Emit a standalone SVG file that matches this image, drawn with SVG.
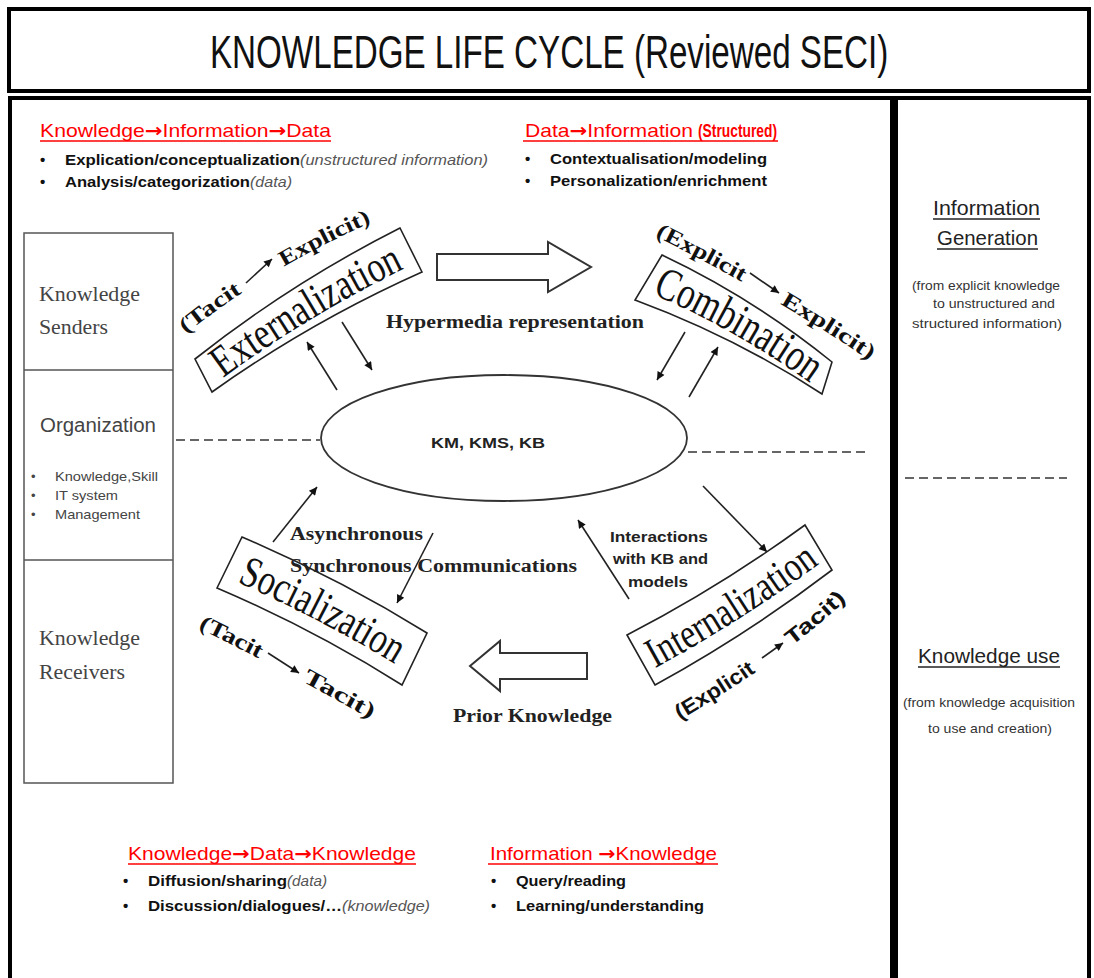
<svg xmlns="http://www.w3.org/2000/svg" width="1094" height="978" viewBox="0 0 1094 978">
<defs>
<marker id="ah" viewBox="0 0 10 10" refX="10" refY="5" markerWidth="11" markerHeight="8" markerUnits="userSpaceOnUse" orient="auto"><path d="M0,0 L10,5 L0,10 z" fill="#111"/></marker>
<path id="pExt" d="M211,387 Q308,314 418,262"/>
<path id="pComb" d="M641,289 Q737,329 820,390"/>
<path id="pSoc" d="M223,576 Q319,617 408,672"/>
<path id="pInt" d="M648,672 Q741,622 826,559"/>
<path id="lExt" d="M186,334 Q266,269 372,222"/>
<path id="lComb" d="M655,236 Q775,296 872,362"/>
<path id="lSoc" d="M198,628 Q286,671 372,720"/>
<path id="lInt" d="M680,720 Q787,657 848,598"/>
</defs>
<style>
.frame{fill:none;stroke:#000;stroke-width:4}
.sans{font-family:"Liberation Sans",Arial,sans-serif}
.red{font-family:"Liberation Sans",Arial,sans-serif;font-size:19px;fill:#f00}
.ar{font-family:"DejaVu Sans",sans-serif;font-weight:bold}
.ul{stroke:#f00;stroke-width:1.6}
.bul{font-family:"Liberation Sans",Arial,sans-serif;font-size:15px;font-weight:bold;fill:#111}
.ital{font-family:"Liberation Sans",Arial,sans-serif;font-size:15px;font-style:italic;fill:#555}
.side{font-family:"Liberation Sans",Arial,sans-serif;font-size:21px;fill:#222}
.sideS{font-family:"Liberation Sans",Arial,sans-serif;font-size:13px;fill:#333}
.box{fill:none;stroke:#555;stroke-width:1.5}
.boxT{font-family:"Liberation Serif","Times New Roman",serif;font-size:20px;fill:#444}
.org{font-family:"Liberation Sans",Arial,sans-serif;font-size:13px;fill:#444}
.banner{fill:#fff;stroke:#222;stroke-width:1.6}
.bText{font-family:"Liberation Serif","Times New Roman",serif;fill:#111}
.lab{font-family:"Liberation Serif","Times New Roman",serif;font-weight:bold;font-size:22px;fill:#111}
.labS{font-family:"Liberation Sans",Arial,sans-serif;font-weight:bold;font-size:21px;fill:#111}
.midT{font-family:"Liberation Serif","Times New Roman",serif;font-weight:bold;font-size:18px;fill:#222}
.midS{font-family:"Liberation Sans",Arial,sans-serif;font-weight:bold;font-size:15px;fill:#222}
.arr{stroke:#222;stroke-width:1.6;fill:none;marker-end:url(#ah)}
.hollow{fill:#fff;stroke:#333;stroke-width:2}
.dash{stroke:#666;stroke-width:2;stroke-dasharray:9 5;fill:none}
</style>
<rect width="1094" height="978" fill="#fff"/>

<g id="title">
<rect x="9" y="9" width="1080" height="82" class="frame"/>
<text transform="translate(210,68) scale(0.62,1)" x="0" y="0" class="sans" font-size="46" fill="#111" textLength="1094" lengthAdjust="spacingAndGlyphs">KNOWLEDGE LIFE CYCLE (Reviewed SECI)</text>
</g>

<g id="panels">
<rect x="10" y="98" width="882" height="900" class="frame"/>
<rect x="896" y="98" width="193" height="900" class="frame"/>
</g>

<g id="header-tl">
<text class="red" x="40" y="137" textLength="291" lengthAdjust="spacingAndGlyphs">Knowledge<tspan class="ar">→</tspan>Information<tspan class="ar">→</tspan>Data</text>
<line x1="40" y1="141" x2="331" y2="141" class="ul"/>
<text class="bul" x="40" y="165">•</text>
<text class="bul" x="65" y="165" textLength="235" lengthAdjust="spacingAndGlyphs">Explication/conceptualization</text>
<text class="ital" x="300" y="165" textLength="188" lengthAdjust="spacingAndGlyphs">(unstructured information)</text>
<text class="bul" x="40" y="187">•</text>
<text class="bul" x="65" y="187" textLength="185" lengthAdjust="spacingAndGlyphs">Analysis/categorization</text>
<text class="ital" x="250" y="187" textLength="42" lengthAdjust="spacingAndGlyphs">(data)</text>
</g>

<g id="header-tr">
<text class="red" x="525" y="137" textLength="168" lengthAdjust="spacingAndGlyphs">Data<tspan class="ar">→</tspan>Information</text>
<text class="red" x="698" y="137" font-size="13" font-weight="bold" textLength="79" lengthAdjust="spacingAndGlyphs">(Structured)</text>
<line x1="523" y1="141" x2="778" y2="141" class="ul"/>
<text class="bul" x="525" y="164">•</text>
<text class="bul" x="550" y="164" textLength="217" lengthAdjust="spacingAndGlyphs">Contextualisation/modeling</text>
<text class="bul" x="525" y="186">•</text>
<text class="bul" x="550" y="186" textLength="217" lengthAdjust="spacingAndGlyphs">Personalization/enrichment</text>
</g>

<g id="side-info">
<text class="side" x="933" y="215" textLength="107" lengthAdjust="spacingAndGlyphs">Information</text>
<line x1="933" y1="219" x2="1040" y2="219" stroke="#222" stroke-width="1.5"/>
<text class="side" x="937" y="245" textLength="101" lengthAdjust="spacingAndGlyphs">Generation</text>
<line x1="937" y1="249" x2="1038" y2="249" stroke="#222" stroke-width="1.5"/>
<text class="sideS" x="912" y="290" textLength="148" lengthAdjust="spacingAndGlyphs">(from explicit knowledge</text>
<text class="sideS" x="933" y="308" textLength="122" lengthAdjust="spacingAndGlyphs">to unstructured and</text>
<text class="sideS" x="912" y="328" textLength="150" lengthAdjust="spacingAndGlyphs">structured information)</text>
<line x1="905" y1="478" x2="1067" y2="478" class="dash" stroke="#888"/>
</g>

<g id="side-use">
<text class="side" x="918" y="663" textLength="142" lengthAdjust="spacingAndGlyphs">Knowledge use</text>
<line x1="918" y1="667" x2="1060" y2="667" stroke="#222" stroke-width="1.5"/>
<text class="sideS" x="903" y="707" textLength="172" lengthAdjust="spacingAndGlyphs">(from knowledge acquisition</text>
<text class="sideS" x="928" y="733" textLength="124" lengthAdjust="spacingAndGlyphs">to use and creation)</text>
</g>

<g id="actors">
<rect x="24" y="233" width="149" height="550" class="box"/>
<line x1="24" y1="370" x2="173" y2="370" class="box"/>
<line x1="24" y1="560" x2="173" y2="560" class="box"/>
<text class="boxT" x="39" y="301" textLength="101" lengthAdjust="spacingAndGlyphs">Knowledge</text>
<text class="boxT" x="39" y="334" textLength="69" lengthAdjust="spacingAndGlyphs">Senders</text>
<text class="sans" x="40" y="432" font-size="20" fill="#444" textLength="116" lengthAdjust="spacingAndGlyphs">Organization</text>
<text class="org" x="31" y="481">•</text>
<text class="org" x="55" y="481" textLength="103" lengthAdjust="spacingAndGlyphs">Knowledge,Skill</text>
<text class="org" x="31" y="500">•</text>
<text class="org" x="55" y="500" textLength="63" lengthAdjust="spacingAndGlyphs">IT system</text>
<text class="org" x="31" y="519">•</text>
<text class="org" x="55" y="519" textLength="85" lengthAdjust="spacingAndGlyphs">Management</text>
<text class="boxT" x="39" y="645" textLength="101" lengthAdjust="spacingAndGlyphs">Knowledge</text>
<text class="boxT" x="39" y="679" textLength="86" lengthAdjust="spacingAndGlyphs">Receivers</text>
</g>

<g id="connectors">
<line x1="176" y1="440" x2="320" y2="440" class="dash"/>
<line x1="688" y1="452" x2="870" y2="452" class="dash"/>
<polygon class="hollow" points="437,254 548,254 548,242 591,267 548,292 548,280 437,280"/>
<polygon class="hollow" points="587,653 500,653 500,641 470,666 500,691 500,679 587,679"/>
<line class="arr" x1="337" y1="390" x2="307" y2="342"/>
<line class="arr" x1="342" y1="322" x2="372" y2="370"/>
<line class="arr" x1="685" y1="332" x2="657" y2="380"/>
<line class="arr" x1="689" y1="397" x2="718" y2="347"/>
<line class="arr" x1="273" y1="542" x2="317" y2="487"/>
<line class="arr" x1="433" y1="533" x2="397" y2="603"/>
<line class="arr" x1="703" y1="486" x2="767" y2="552"/>
<line class="arr" x1="629" y1="599" x2="578" y2="520"/>
<line class="arr" x1="246" y1="283" x2="272" y2="259"/>
<line class="arr" x1="750" y1="273" x2="779" y2="293"/>
<line class="arr" x1="268" y1="653" x2="299" y2="673"/>
<line class="arr" x1="762" y1="658" x2="783" y2="643"/>
</g>

<g id="kb">
<ellipse cx="504" cy="438" rx="183" ry="63" fill="#fff" stroke="#333" stroke-width="1.8"/>
<text class="midS" x="488" y="448" text-anchor="middle" textLength="114" lengthAdjust="spacingAndGlyphs">KM, KMS, KB</text>
</g>

<g id="externalization">
<path class="banner" d="M195,359 Q291,283 400,228 L422,272 Q310,322 212,392 Z"/>
<text class="bText" font-size="44"><textPath href="#pExt" startOffset="50%" text-anchor="middle" textLength="212" lengthAdjust="spacingAndGlyphs">Externalization</textPath></text>
<text class="lab"><textPath href="#lExt" startOffset="0" textLength="70" lengthAdjust="spacingAndGlyphs">(Tacit</textPath></text>
<text class="lab"><textPath href="#lExt" startOffset="119" textLength="98" lengthAdjust="spacingAndGlyphs">Explicit)</textPath></text>
</g>

<g id="combination">
<path class="banner" d="M662,255 Q753,298 832,362 L822,394 Q735,337 635,300 Z"/>
<text class="bText" font-size="46"><textPath href="#pComb" startOffset="50%" text-anchor="middle" textLength="182" lengthAdjust="spacingAndGlyphs">Combination</textPath></text>
<text class="lab"><textPath href="#lComb" startOffset="0" textLength="98" lengthAdjust="spacingAndGlyphs">(Explicit</textPath></text>
<text class="lab"><textPath href="#lComb" startOffset="142" textLength="106" lengthAdjust="spacingAndGlyphs">Explicit)</textPath></text>
</g>

<g id="socialization">
<path class="banner" d="M242,537 Q338,578 427,633 L402,685 Q313,629 217,588 Z"/>
<text class="bText" font-size="44"><textPath href="#pSoc" startOffset="50%" text-anchor="middle" textLength="178" lengthAdjust="spacingAndGlyphs">Socialization</textPath></text>
<text class="lab"><textPath href="#lSoc" startOffset="0" textLength="68" lengthAdjust="spacingAndGlyphs">(Tacit</textPath></text>
<text class="lab"><textPath href="#lSoc" startOffset="117" textLength="78" lengthAdjust="spacingAndGlyphs">Tacit)</textPath></text>
</g>

<g id="internalization">
<path class="banner" d="M627,635 Q720,587 805,525 L832,570 Q748,634 655,685 Z"/>
<text class="bText" font-size="42"><textPath href="#pInt" startOffset="50%" text-anchor="middle" textLength="195" lengthAdjust="spacingAndGlyphs">Internalization</textPath></text>
<text class="labS"><textPath href="#lInt" startOffset="0" textLength="90" lengthAdjust="spacingAndGlyphs">(Explicit</textPath></text>
<text class="labS"><textPath href="#lInt" startOffset="134" textLength="72" lengthAdjust="spacingAndGlyphs">Tacit)</textPath></text>
</g>

<g id="mid-labels">
<text class="midT" x="386" y="328" textLength="258" lengthAdjust="spacingAndGlyphs">Hypermedia representation</text>
<text class="midT" x="290" y="540" textLength="133" lengthAdjust="spacingAndGlyphs">Asynchronous</text>
<text class="midT" x="290" y="572" textLength="287" lengthAdjust="spacingAndGlyphs">Synchronous Communications</text>
<text class="midT" x="453" y="722" textLength="159" lengthAdjust="spacingAndGlyphs">Prior Knowledge</text>
<text class="midS" x="610" y="542" textLength="98" lengthAdjust="spacingAndGlyphs">Interactions</text>
<text class="midS" x="613" y="564" textLength="95" lengthAdjust="spacingAndGlyphs">with KB and</text>
<text class="midS" x="628" y="587" textLength="60" lengthAdjust="spacingAndGlyphs">models</text>
</g>

<g id="footer-l">
<text class="red" x="128" y="860" textLength="288" lengthAdjust="spacingAndGlyphs">Knowledge<tspan class="ar">→</tspan>Data<tspan class="ar">→</tspan>Knowledge</text>
<line x1="128" y1="864" x2="416" y2="864" class="ul"/>
<text class="bul" x="123" y="886">•</text>
<text class="bul" x="148" y="886" textLength="139" lengthAdjust="spacingAndGlyphs">Diffusion/sharing</text>
<text class="ital" x="287" y="886" textLength="40" lengthAdjust="spacingAndGlyphs">(data)</text>
<text class="bul" x="123" y="911">•</text>
<text class="bul" x="148" y="911" textLength="194" lengthAdjust="spacingAndGlyphs">Discussion/dialogues/…</text>
<text class="ital" x="342" y="911" textLength="88" lengthAdjust="spacingAndGlyphs">(knowledge)</text>
</g>

<g id="footer-r">
<text class="red" x="490" y="860" textLength="227" lengthAdjust="spacingAndGlyphs">Information <tspan class="ar">→</tspan>Knowledge</text>
<line x1="488" y1="864" x2="718" y2="864" class="ul"/>
<text class="bul" x="491" y="886">•</text>
<text class="bul" x="516" y="886" textLength="110" lengthAdjust="spacingAndGlyphs">Query/reading</text>
<text class="bul" x="491" y="911">•</text>
<text class="bul" x="516" y="911" textLength="188" lengthAdjust="spacingAndGlyphs">Learning/understanding</text>
</g>
</svg>
